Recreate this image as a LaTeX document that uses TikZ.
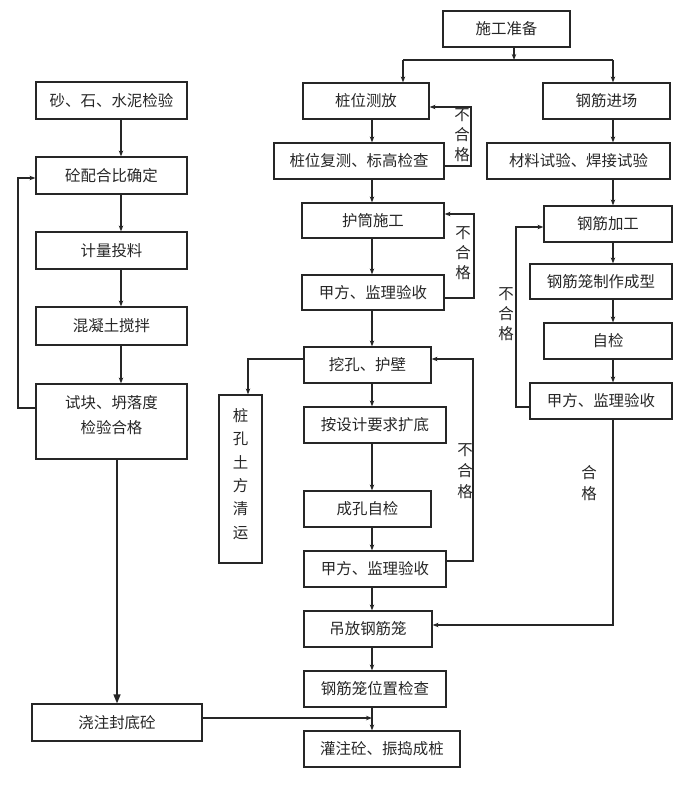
\documentclass[tikz,border=0pt]{standalone}
\usepackage{fontspec}
\newfontfamily\cjk{Noto Sans CJK SC}
\usetikzlibrary{arrows.meta}
\begin{document}
\begin{tikzpicture}[x=1bp,y=-1bp,
  box/.style={draw=black!85,line width=1.2bp,inner sep=0pt,minimum height=36bp,text=black!85,
    font=\cjk\fontsize{15.5}{25}\selectfont,align=center},
  arr/.style={draw=black!85,line width=1.2bp,-{Stealth[length=6bp,width=4.5bp]}},
  bigarr/.style={draw=black!85,line width=1.4bp,-{Triangle[length=9bp,width=7bp]}},
  lab/.style={text=black!85,font=\cjk\fontsize{15.5}{20}\selectfont,align=center,inner sep=0pt}]
\useasboundingbox (0,0) rectangle (693,786);
% column guides
\coordinate (cx) at (372,0);
\coordinate (cr) at (613,0);
\coordinate (cl) at (121,0);
% nodes
\node[box,minimum width=127bp] (prep) at (506.5,29) {施工准备};
\node[box,minimum width=126bp] (zwcf) at (366,101) {桩位测放};
\node[box,minimum width=127bp] (gjjc) at (606.5,101) {钢筋进场};
\node[box,minimum width=170bp] (zwfc) at (359,161) {桩位复测、标高检查};
\node[box,minimum width=183bp] (clsy) at (578.5,161) {材料试验、焊接试验};
\node[box,minimum width=142bp,minimum height=35bp] (hutong) at (373,220.5) {护筒施工};
\node[box,minimum width=142bp,minimum height=35bp] (jf1) at (373,292.5) {甲方、监理验收};
\node[box,minimum width=127bp] (wakong) at (367.5,365) {挖孔、护壁};
\node[box,minimum width=142bp] (kuodi) at (375,425) {按设计要求扩底};
\node[box,minimum width=127bp] (chengkong) at (367.5,509) {成孔自检};
\node[box,minimum width=142bp] (jf2) at (375,569) {甲方、监理验收};
\node[box,minimum width=43bp,minimum height=168bp,font=\cjk\fontsize{15.5}{23.4}\selectfont] (tufang) at (240.5,479) {桩\\孔\\土\\方\\清\\运\\[-12bp]};
\node[box,minimum width=128bp] (diaofang) at (368,629) {吊放钢筋笼};
\node[box,minimum width=142bp] (weizhi) at (375,689) {钢筋笼位置检查};
\node[box,minimum width=156bp] (guanzhu) at (382,749) {灌注砼、振捣成桩};
\node[box,minimum width=151bp,minimum height=37bp] (sha) at (111.5,100.5) {砂、石、水泥检验};
\node[box,minimum width=151bp,minimum height=37bp] (peihe) at (111.5,175.5) {砼配合比确定};
\node[box,minimum width=151bp,minimum height=37bp] (jiliang) at (111.5,250.5) {计量投料};
\node[box,minimum width=151bp,minimum height=38bp] (hunning) at (111.5,326) {混凝土搅拌};
\node[box,minimum width=151bp,minimum height=75bp] (shikuai) at (111.5,421.5) {试块、坍落度\\检验合格\\[-11bp]};
\node[box,minimum width=170bp,minimum height=37bp] (fengdi) at (117,722.5) {浇注封底砼};
\node[box,minimum width=128bp] (gjjg) at (608,224) {钢筋加工};
\node[box,minimum width=142bp,minimum height=35bp] (lzzz) at (601,281.5) {钢筋笼制作成型};
\node[box,minimum width=128bp] (zijian) at (608,341) {自检};
\node[box,minimum width=142bp] (jf3) at (601,401) {甲方、监理验收};
% labels
\node[lab] (n1) at (462,135) {不\\合\\格};
\node[lab] (n2) at (463,253) {不\\合\\格};
\node[lab,font=\cjk\fontsize{15.5}{21}\selectfont] (n3) at (465,471) {不\\合\\格};
\node[lab] (n5) at (506,314) {不\\合\\格};
\node[lab,font=\cjk\fontsize{15.5}{21}\selectfont] (hg) at (589,483.5) {合\\格};
% top split
\coordinate (split) at (514,60);
\coordinate (splitL) at (403,60);
\coordinate (splitR) at (613,60);
\draw[arr] (prep.south -| split) -- (split);
\draw[line width=1.2bp,draw=black!85] (splitL) -- (splitR);
\draw[arr] (splitL) -- (zwcf.north -| splitL);
\draw[arr] (splitR) -- (gjjc.north -| splitR);
% centre column
\draw[arr] (zwcf.south -| cx) -- (zwfc.north -| cx);
\draw[arr] (zwfc.south -| cx) -- (hutong.north -| cx);
\draw[arr] (hutong.south -| cx) -- (jf1.north -| cx);
\draw[arr] (jf1.south -| cx) -- (wakong.north -| cx);
\draw[arr] (wakong.south -| cx) -- (kuodi.north -| cx);
\draw[arr] (kuodi.south -| cx) -- (chengkong.north -| cx);
\draw[arr] (chengkong.south -| cx) -- (jf2.north -| cx);
\draw[arr] (jf2.south -| cx) -- (diaofang.north -| cx);
\draw[arr] (diaofang.south -| cx) -- (weizhi.north -| cx);
\draw[arr] (weizhi.south -| cx) -- (guanzhu.north -| cx);
% right column
\draw[arr] (gjjc.south -| cr) -- (clsy.north -| cr);
\draw[arr] (clsy.south -| cr) -- (gjjg.north -| cr);
\draw[arr] (gjjg.south -| cr) -- (lzzz.north -| cr);
\draw[arr] (lzzz.south -| cr) -- (zijian.north -| cr);
\draw[arr] (zijian.south -| cr) -- (jf3.north -| cr);
% left column
\draw[arr] (sha.south -| cl) -- (peihe.north -| cl);
\draw[arr] (peihe.south -| cl) -- (jiliang.north -| cl);
\draw[arr] (jiliang.south -| cl) -- (hunning.north -| cl);
\draw[arr] (hunning.south -| cl) -- (shikuai.north -| cl);
\draw[bigarr] (shikuai.south -| 117,0) -- (fengdi.north -| 117,0);
% loops
\draw[arr] (zwfc.east |- 0,166) -| (471,107) -- (zwcf.east |- 0,107);
\draw[arr] (jf1.east |- 0,298) -| (474,214) -- (hutong.east |- 0,214);
\draw[arr] (jf2.east |- 0,561) -| (473,359) -- (wakong.east |- 0,359);
\draw[arr] (shikuai.west |- 0,408) -| (18,178) -- (peihe.west |- 0,178);
\draw[arr] (jf3.west |- 0,407) -| (516,227) -- (gjjg.west |- 0,227);
\draw[arr] (wakong.west |- 0,359) -| (tufang.north -| 248,0);
% joins
\coordinate (merge) at (372,718);
\draw[arr] (fengdi.east |- merge) -- (merge);
\draw[arr] (jf3.south -| cr) -- (613,625) -- (diaofang.east |- 0,625);
\end{tikzpicture}
\end{document}
